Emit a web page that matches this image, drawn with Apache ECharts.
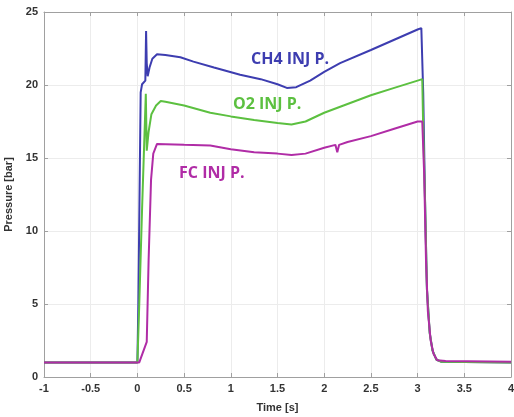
<!DOCTYPE html>
<html><head><meta charset="utf-8">
<script src="https://cdn.jsdelivr.net/npm/echarts@6/dist/echarts.min.js"></script>
<style>html,body{margin:0;padding:0;background:#fff;}#c{width:514px;height:417px;}</style>
</head><body><div id="c"></div>
<script>
const xTicks = [-1, 4, 0.5];
const yTicks = [0, 25, 5];
const seriesNames = ['CH4 INJ P.', 'O2 INJ P.', 'FC INJ P.'];

const ch4Time = [-1, 0, 0.01, 0.035, 0.05, 0.085, 0.093, 0.1, 0.11, 0.13, 0.16, 0.21, 0.3, 0.46, 0.6, 0.82, 1.1, 1.32, 1.5, 1.6, 1.7, 1.85, 2.0, 2.17, 2.5, 2.75, 3.0, 3.04, 3.06, 3.08, 3.1, 3.13, 3.16, 3.2, 3.25, 4];
const ch4P    = [1.0, 1.0, 5, 19.5, 20.05, 20.3, 23.7, 21.5, 20.6, 21.2, 21.8, 22.1, 22.05, 21.9, 21.6, 21.2, 20.7, 20.4, 20.05, 19.8, 19.85, 20.3, 20.9, 21.5, 22.4, 23.1, 23.8, 23.9, 19.5, 12, 6, 3, 1.8, 1.2, 1.05, 1.0];

const o2Time = [-1, 0, 0.02, 0.05, 0.09, 0.1, 0.12, 0.15, 0.2, 0.25, 0.3, 0.5, 0.78, 1.0, 1.25, 1.5, 1.65, 1.8, 2.0, 2.25, 2.5, 2.75, 3.0, 3.05, 3.06, 3.08, 3.1, 3.13, 3.16, 3.2, 3.25, 4];
const o2P    = [1.0, 1.0, 5, 11.5, 19.4, 15.5, 16.8, 18.0, 18.6, 18.9, 18.85, 18.6, 18.1, 17.85, 17.6, 17.4, 17.3, 17.5, 18.1, 18.7, 19.3, 19.8, 20.3, 20.4, 17, 12, 6, 3, 1.8, 1.2, 1.05, 1.0];

const fcTime = [-1, 0.02, 0.1, 0.12, 0.146, 0.17, 0.21, 0.3, 0.5, 0.78, 1.0, 1.25, 1.5, 1.65, 1.8, 2.0, 2.12, 2.14, 2.16, 2.25, 2.5, 2.75, 3.0, 3.05, 3.07, 3.09, 3.11, 3.14, 3.17, 3.21, 3.3, 4];
const fcP    = [1.0, 1.0, 2.4, 8, 13.5, 15.3, 15.96, 15.95, 15.9, 15.85, 15.6, 15.4, 15.3, 15.2, 15.3, 15.7, 15.9, 15.4, 15.9, 16.1, 16.5, 17.0, 17.5, 17.5, 14, 8, 4.5, 2.5, 1.6, 1.15, 1.1, 1.05];

const pair = (t, p) => t.map((v, i) => [v, p[i]]);
const colors = ['#3d3db0', '#5cc040', '#b02ca6'];

const chart = echarts.init(document.getElementById('c'), null, {renderer: 'canvas'});
const lbl = {color: '#333', fontWeight: 'bold', fontSize: 11, fontFamily: 'Liberation Sans'};
const axLine = {show: true, onZero: false, lineStyle: {color: '#a0a0a0', width: 1}};
const tick = {show: true, inside: true, length: 4, lineStyle: {color: '#a0a0a0'}};
const txt = (i, x, y) => ({type: 'text', x: x, y: y, z: 100,
  style: {text: seriesNames[i], fill: colors[i], fontSize: 16, fontWeight: 'bold', fontFamily: 'Open Sans', verticalAlign: 'middle', align: 'left'}});
chart.setOption({
  animation: false,
  backgroundColor: '#fff',
  grid: {left: 44, right: 3, top: 12, bottom: 40, show: false, outerBoundsMode: 'none', containLabel: false},
  xAxis: [{
    type: 'value', min: xTicks[0], max: xTicks[1], interval: xTicks[2],
    name: 'Time [s]', nameLocation: 'middle', nameGap: 25,
    nameTextStyle: {color: '#333', fontWeight: 'bold', fontSize: 11, fontFamily: 'Liberation Sans'},
    axisLine: axLine, axisTick: tick, axisLabel: Object.assign({margin: 6}, lbl),
    splitLine: {show: true, lineStyle: {color: '#ececec'}}
  }, {
    type: 'value', position: 'top', min: xTicks[0], max: xTicks[1], interval: xTicks[2],
    axisLine: axLine, axisTick: tick, axisLabel: {show: false}, splitLine: {show: false}
  }],
  yAxis: [{
    type: 'value', min: yTicks[0], max: yTicks[1], interval: yTicks[2],
    name: 'Pressure [bar]', nameLocation: 'middle', nameGap: 28,
    nameTextStyle: {color: '#333', fontWeight: 'bold', fontSize: 11, fontFamily: 'Liberation Sans'},
    axisLine: axLine, axisTick: tick, axisLabel: Object.assign({margin: 6}, lbl),
    splitLine: {show: true, lineStyle: {color: '#ececec'}}
  }, {
    type: 'value', position: 'right', min: yTicks[0], max: yTicks[1], interval: yTicks[2],
    axisLine: axLine, axisTick: tick, axisLabel: {show: false}, splitLine: {show: false}
  }],
  series: [
    {name: seriesNames[0], type: 'line', data: pair(ch4Time, ch4P), showSymbol: false, lineStyle: {color: colors[0], width: 2}, z: 2},
    {name: seriesNames[1], type: 'line', data: pair(o2Time, o2P), showSymbol: false, lineStyle: {color: colors[1], width: 2}, z: 3},
    {name: seriesNames[2], type: 'line', data: pair(fcTime, fcP), showSymbol: false, lineStyle: {color: colors[2], width: 2}, z: 4}
  ],
  graphic: [txt(0, 251, 59), txt(1, 233, 104), txt(2, 179, 173)]
});
</script></body></html>
